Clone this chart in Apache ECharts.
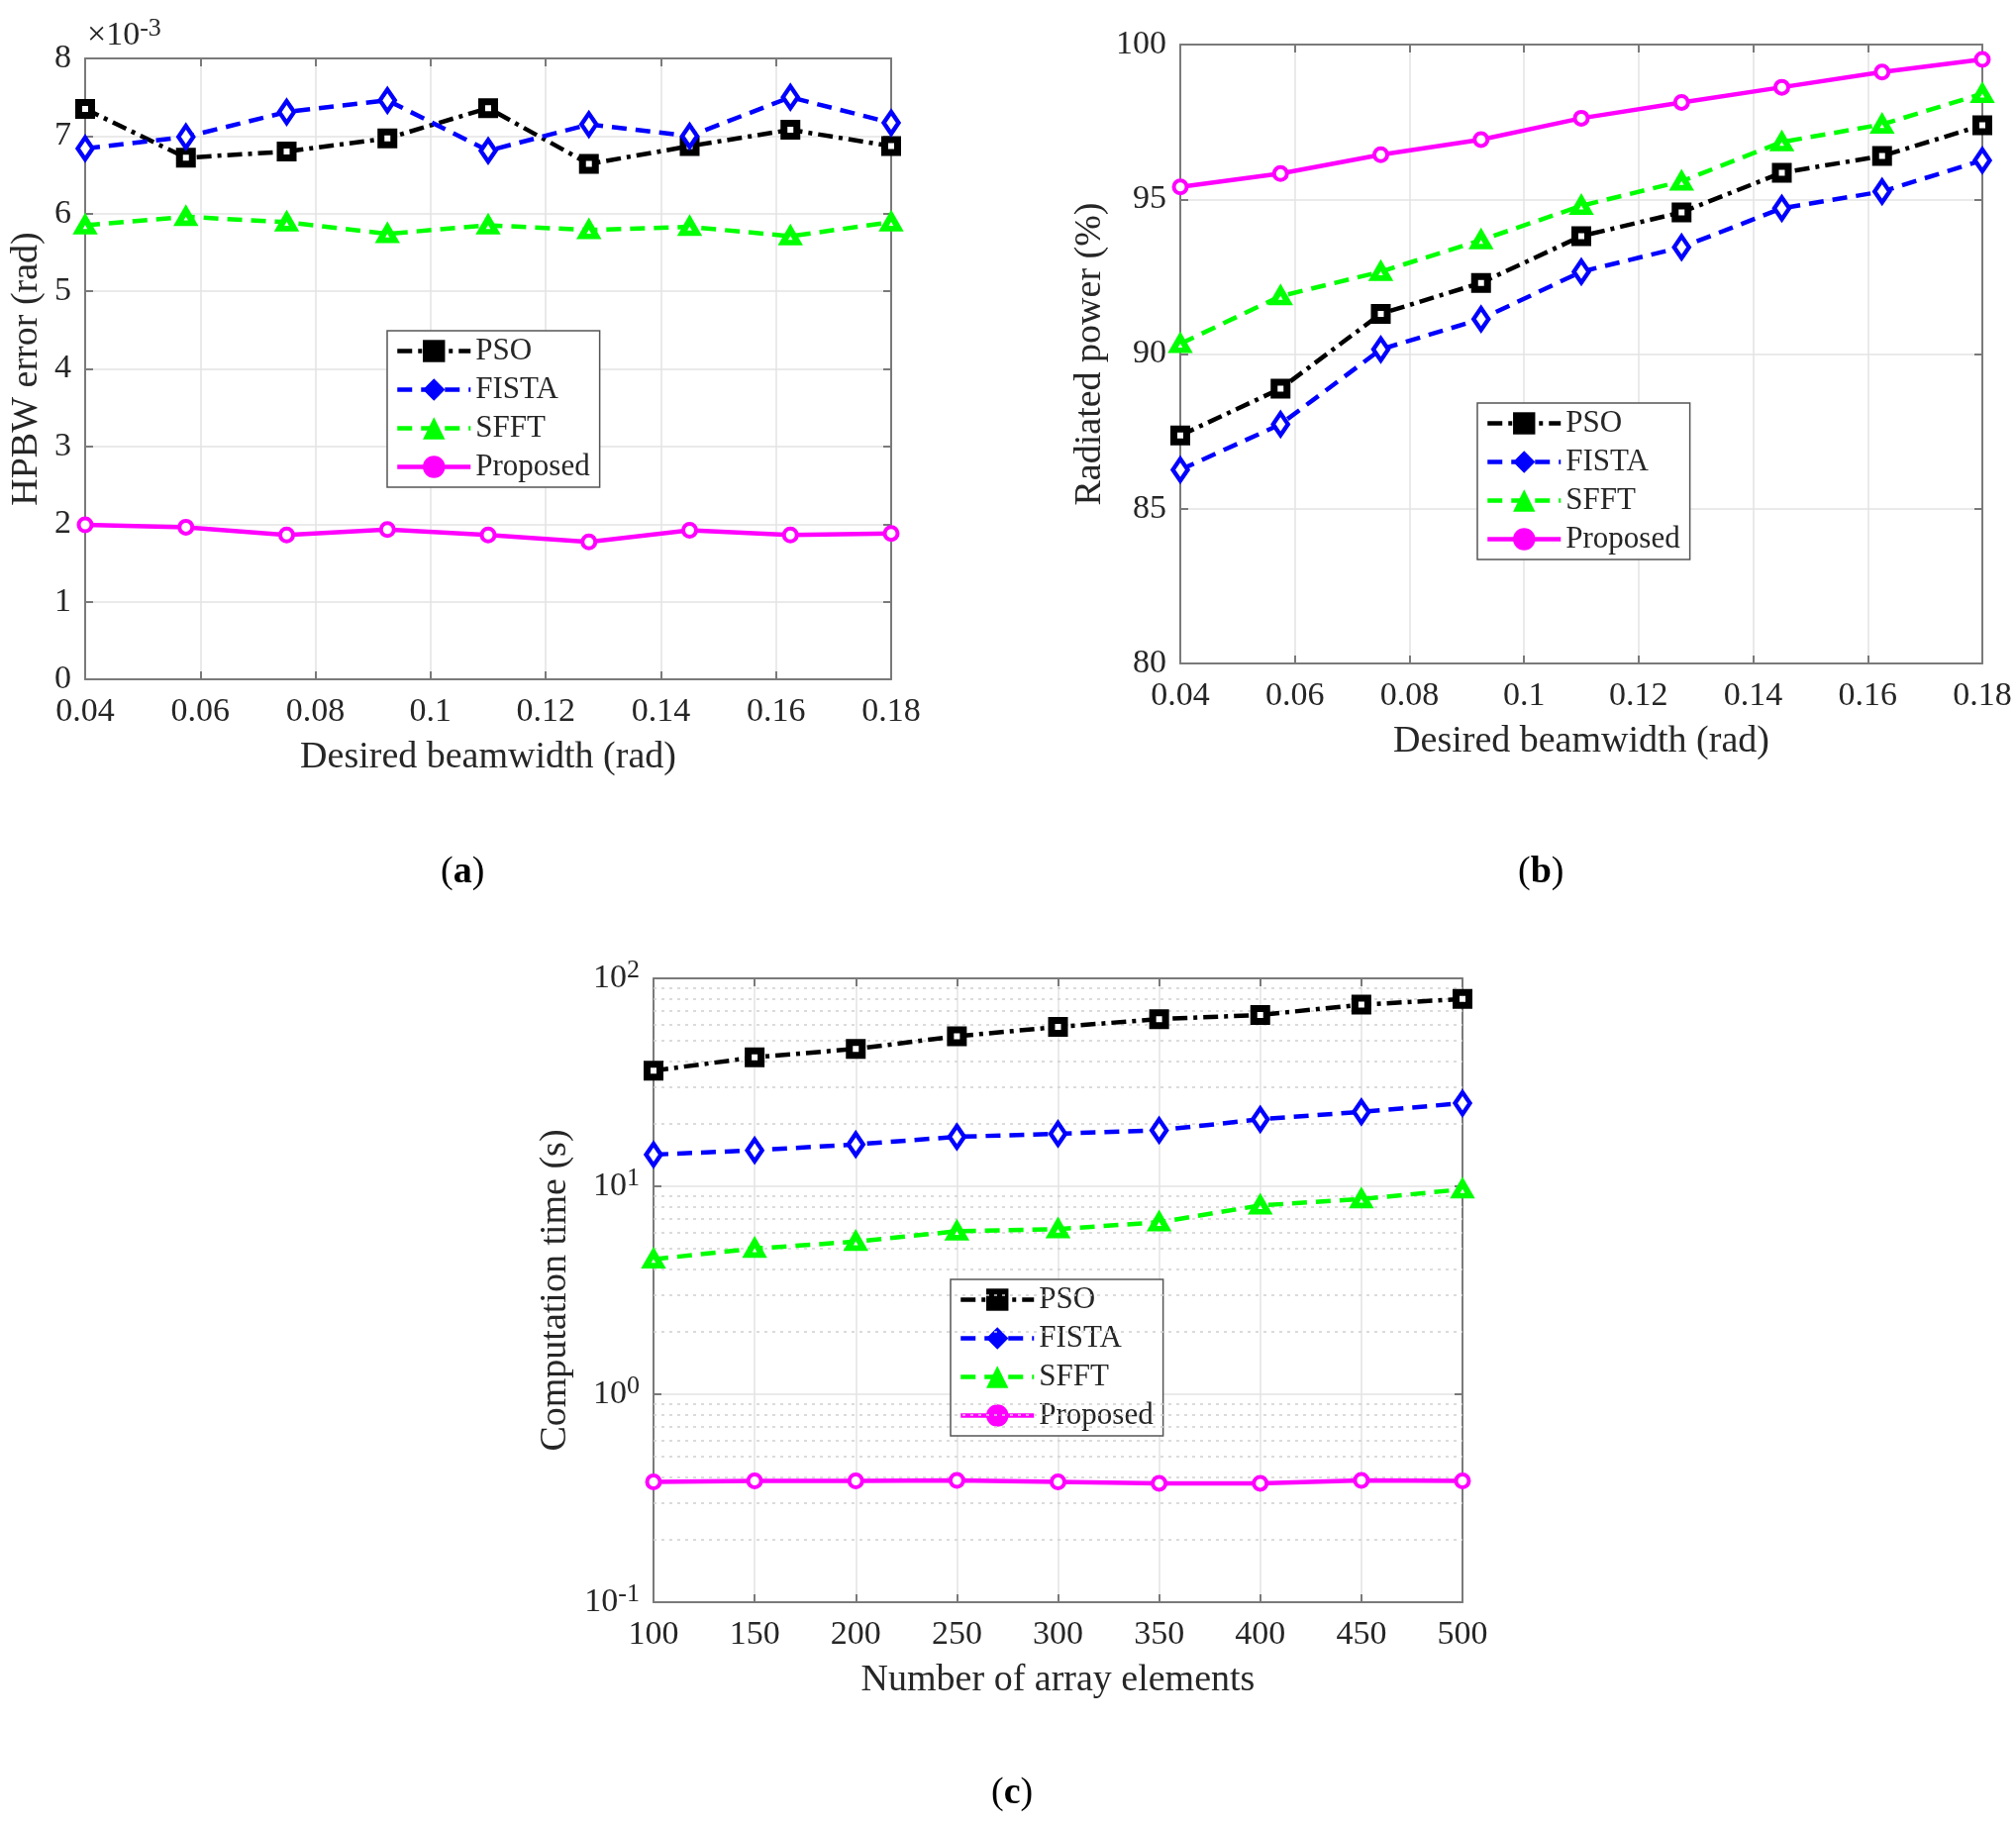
<!DOCTYPE html>
<html>
<head>
<meta charset="utf-8">
<script src="https://cdn.jsdelivr.net/npm/echarts@6/dist/echarts.min.js"></script>
<style>
html,body{margin:0;padding:0;background:#fff;}
#main{width:2036px;height:1844px;}
</style>
</head>
<body>
<div id="main"></div>
<script>
// ---- data ----
var seriesNames = ['PSO', 'FISTA', 'SFFT', 'Proposed'];
var beamwidth = [0.04, 0.0575, 0.075, 0.0925, 0.11, 0.1275, 0.145, 0.1625, 0.18];
var elements = [100, 150, 200, 250, 300, 350, 400, 450, 500];

// (a) HPBW error, x10^-3 rad
var hpbwPSO = [7.35, 6.72, 6.80, 6.97, 7.36, 6.64, 6.87, 7.08, 6.87];
var hpbwFISTA = [6.84, 6.99, 7.31, 7.46, 6.81, 7.15, 7.00, 7.50, 7.17];
var hpbwSFFT = [5.85, 5.96, 5.89, 5.74, 5.85, 5.79, 5.83, 5.71, 5.89];
var hpbwProp = [1.99, 1.96, 1.86, 1.93, 1.86, 1.77, 1.92, 1.86, 1.88];

// (b) radiated power, %
var powPSO = [87.37, 88.88, 91.30, 92.30, 93.81, 94.58, 95.86, 96.40, 97.39];
var powFISTA = [86.26, 87.73, 90.15, 91.13, 92.66, 93.45, 94.71, 95.25, 96.26];
var powSFFT = [90.33, 91.87, 92.66, 93.68, 94.79, 95.58, 96.85, 97.42, 98.41];
var powProp = [95.40, 95.83, 96.44, 96.93, 97.62, 98.13, 98.62, 99.11, 99.52];

// (c) computation time, s
var timePSO = [36.0, 41.7, 45.8, 52.7, 58.4, 63.7, 66.7, 74.7, 79.6];
var timeFISTA = [14.2, 14.9, 15.9, 17.3, 17.9, 18.6, 21.0, 22.8, 25.1];
var timeSFFT = [4.46, 5.02, 5.42, 6.08, 6.23, 6.72, 8.09, 8.68, 9.67];
var timeProp = [0.379, 0.383, 0.383, 0.385, 0.379, 0.373, 0.373, 0.385, 0.383];

// minor log grid positions for (c)
var minorTicks = [0.2, 0.3, 0.4, 0.5, 0.6, 0.7, 0.8, 0.9, 2, 3, 4, 5, 6, 7, 8, 9, 20, 30, 40, 50, 60, 70, 80, 90];

var FONT = 'Liberation Serif';
var TXT = '#262626';
var AXC = '#7a7a7a';
var GRIDC = '#e3e3e3';

var colors = ['#000000', '#0000ff', '#00ff00', '#ff00ff'];
var dashes = [[15, 6, 4, 6], [15, 9], [15, 9], 'solid'];
var symbols = ['rect', 'diamond', 'triangle', 'circle'];
var symSizes = [13, [15, 22], [15, 13], 13];
var symBorders = [7, 4.5, 6, 4];

function zip(xs, ys) {
	return xs.map(function (x, i) { return [x, ys[i]]; });
}

function bottomAxis(grid, min, max, interval, name, fmt) {
	return {
		gridIndex: grid, type: 'value', position: 'bottom', min: min, max: max, interval: interval,
		name: name, nameLocation: 'middle', nameGap: 60,
		nameTextStyle: {fontFamily: FONT, fontSize: 38, color: TXT},
		axisLine: {show: true, onZero: false, lineStyle: {color: AXC, width: 2}},
		axisTick: {show: true, inside: true, length: 8, lineStyle: {color: AXC, width: 2}},
		axisLabel: {fontFamily: FONT, fontSize: 34, color: TXT, margin: 16, formatter: fmt},
		splitLine: {show: true, lineStyle: {color: GRIDC, width: 1.5}}
	};
}
function topAxis(grid, min, max, interval) {
	return {
		gridIndex: grid, type: 'value', position: 'top', min: min, max: max, interval: interval,
		axisLine: {show: true, onZero: false, lineStyle: {color: AXC, width: 2}},
		axisTick: {show: true, inside: true, length: 8, lineStyle: {color: AXC, width: 2}},
		axisLabel: {show: false}, splitLine: {show: false}
	};
}
function leftAxis(grid, type, min, max, interval, name, gap, fmt) {
	var ax = {
		gridIndex: grid, type: type, position: 'left', min: min, max: max,
		name: name, nameLocation: 'middle', nameGap: gap, nameRotate: 90,
		nameTextStyle: {fontFamily: FONT, fontSize: 38, color: TXT},
		axisLine: {show: true, onZero: false, lineStyle: {color: AXC, width: 2}},
		axisTick: {show: true, inside: true, length: 8, lineStyle: {color: AXC, width: 2}},
		axisLabel: {fontFamily: FONT, fontSize: 34, color: TXT, margin: 14, formatter: fmt},
		splitLine: {show: true, lineStyle: {color: GRIDC, width: 1.5}}
	};
	if (interval) ax.interval = interval;
	return ax;
}
function rightAxis(grid, type, min, max, interval) {
	var ax = {
		gridIndex: grid, type: type, position: 'right', min: min, max: max,
		axisLine: {show: true, onZero: false, lineStyle: {color: AXC, width: 2}},
		axisTick: {show: true, inside: true, length: 8, lineStyle: {color: AXC, width: 2}},
		axisLabel: {show: false}, splitLine: {show: false}
	};
	if (interval) ax.interval = interval;
	return ax;
}

var fmtBw = function (v) { return String(+v.toFixed(2)); };
var fmtLog = function (v) {
	var e = Math.round(Math.log(v) / Math.LN10);
	return '{b|10}{e|' + e + '}';
};

function makeSeries(i, xi, yi, data) {
	return {
		name: seriesNames[i], type: 'line', xAxisIndex: xi, yAxisIndex: yi,
		data: data, symbol: symbols[i], symbolSize: symSizes[i],
		z: 10 + i,
		lineStyle: {color: colors[i], width: 4.5, type: dashes[i]},
		itemStyle: {color: '#ffffff', borderColor: colors[i], borderWidth: symBorders[i]},
		emphasis: {disabled: true},
		animation: false
	};
}

function legendAt(left, top) {
	return {
		left: left, top: top, orient: 'vertical',
		backgroundColor: '#fff', borderColor: '#555', borderWidth: 1.5,
		padding: [5, 10, 5, 8], itemGap: 8, itemWidth: 74, itemHeight: 28,
		selectedMode: false,
		textStyle: {fontFamily: FONT, fontSize: 31, color: TXT},
		data: seriesNames.map(function (n, i) {
			return {
				name: n,
				itemStyle: {color: colors[i], borderColor: colors[i], borderWidth: 0},
				lineStyle: {color: colors[i], width: 4.5, type: dashes[i]}
			};
		})
	};
}

var chart = echarts.init(document.getElementById('main'), null, {renderer: 'canvas'});

var option = {
	backgroundColor: '#ffffff',
	animation: false,
	grid: [
		{left: 86, top: 59, width: 814, height: 627},
		{left: 1192, top: 45, width: 810, height: 625},
		{left: 660, top: 988, width: 817, height: 630}
	],
	xAxis: [
		bottomAxis(0, 0.04, 0.18, 0.02, 'Desired beamwidth (rad)', fmtBw),
		bottomAxis(1, 0.04, 0.18, 0.02, 'Desired beamwidth (rad)', fmtBw),
		bottomAxis(2, 100, 500, 50, 'Number of array elements', null),
		topAxis(0, 0.04, 0.18, 0.02),
		topAxis(1, 0.04, 0.18, 0.02),
		topAxis(2, 100, 500, 50)
	],
	yAxis: [
		leftAxis(0, 'value', 0, 8, 1, 'HPBW error (rad)', 40, null),
		leftAxis(1, 'value', 80, 100, 5, 'Radiated power (%)', 72, null),
		leftAxis(2, 'log', 0.1, 100, null, 'Computation time (s)', 80, fmtLog),
		rightAxis(0, 'value', 0, 8, 1),
		rightAxis(1, 'value', 80, 100, 5),
		rightAxis(2, 'log', 0.1, 100, null)
	],
	legend: [legendAt(391, 334), legendAt(1492, 407), legendAt(960, 1292)],
	graphic: [
		{type: 'text', left: 88, top: 16, style: {
			text: '×10{s|-3}', fill: TXT, font: '34px "Liberation Serif"',
			rich: {s: {fontFamily: FONT, fontSize: 26, fill: TXT, verticalAlign: 'top', padding: [0, 0, 14, 0]}}
		}},
		{type: 'text', left: 445, top: 862, style: {
			text: '({b|a})', fill: '#000', font: '38px "Liberation Serif"',
			rich: {b: {fontFamily: FONT, fontSize: 38, fontWeight: 'bold', fill: '#000'}}
		}},
		{type: 'text', left: 1533, top: 862, style: {
			text: '({b|b})', fill: '#000', font: '38px "Liberation Serif"',
			rich: {b: {fontFamily: FONT, fontSize: 38, fontWeight: 'bold', fill: '#000'}}
		}},
		{type: 'text', left: 1001, top: 1792, style: {
			text: '({b|c})', fill: '#000', font: '38px "Liberation Serif"',
			rich: {b: {fontFamily: FONT, fontSize: 38, fontWeight: 'bold', fill: '#000'}}
		}}
	],
	series: [
		// minor log grid for (c)
		{
			type: 'line', xAxisIndex: 2, yAxisIndex: 2, data: [], silent: true, z: 1,
			markLine: {
				silent: true, symbol: ['none', 'none'], animation: false,
				label: {show: false},
				lineStyle: {color: '#cfcfcf', type: [3, 5], width: 1.5},
				data: minorTicks.map(function (v) { return {yAxis: v}; })
			}
		},
		makeSeries(0, 0, 0, zip(beamwidth, hpbwPSO)),
		makeSeries(1, 0, 0, zip(beamwidth, hpbwFISTA)),
		makeSeries(2, 0, 0, zip(beamwidth, hpbwSFFT)),
		makeSeries(3, 0, 0, zip(beamwidth, hpbwProp)),
		makeSeries(0, 1, 1, zip(beamwidth, powPSO)),
		makeSeries(1, 1, 1, zip(beamwidth, powFISTA)),
		makeSeries(2, 1, 1, zip(beamwidth, powSFFT)),
		makeSeries(3, 1, 1, zip(beamwidth, powProp)),
		makeSeries(0, 2, 2, zip(elements, timePSO)),
		makeSeries(1, 2, 2, zip(elements, timeFISTA)),
		makeSeries(2, 2, 2, zip(elements, timeSFFT)),
		makeSeries(3, 2, 2, zip(elements, timeProp))
	]
};

// rich styles for log labels
option.yAxis[2].axisLabel.rich = {
	b: {fontFamily: FONT, fontSize: 34, color: TXT},
	e: {fontFamily: FONT, fontSize: 26, color: TXT, verticalAlign: 'top', padding: [0, 0, 16, 0]}
};
option.yAxis[2].splitNumber = 3;

chart.setOption(option);
</script>
</body>
</html>
